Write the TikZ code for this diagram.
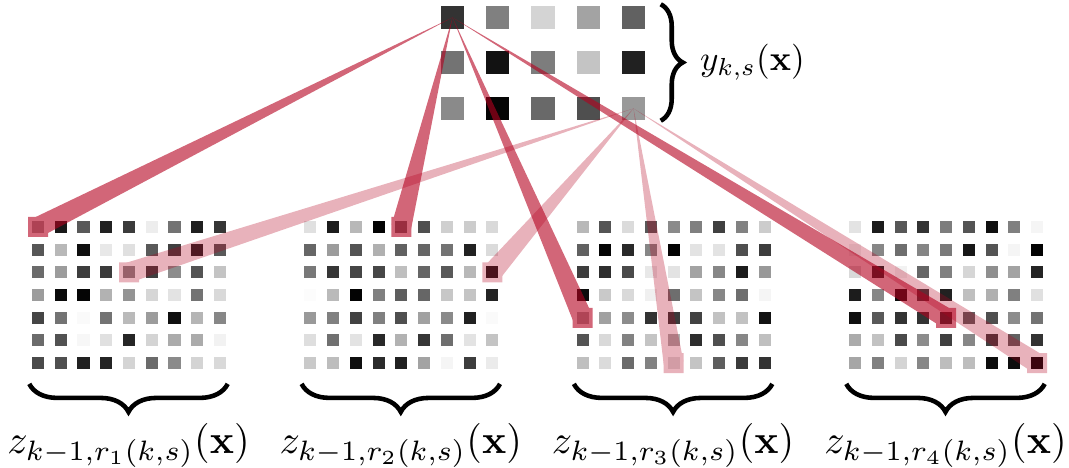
\documentclass[tikz,border=0pt]{standalone}
\usepackage{amsmath}
\usepackage{xcolor}
\usepackage{tikz}
\usetikzlibrary{calc}
\usetikzlibrary{positioning,decorations.pathreplacing}
\definecolor{linkred}{RGB}{180,0,30}

% one feature map: #1 name, #2 left edge, #3 grey values row by row
\newcommand{\featuremap}[3]{%
\foreach \row [count=\r from 0] in {#3} {
  \foreach \v [count=\c from 0] in \row {
    \node[cell, fill=black!\v] (#1-\r-\c) at (#2+6+22.75*\c, 227+22.7*\r) {};
  }
}}

% wedge from a unit of y to its input unit, with the box round it
\newcommand{\receptive}[3]{%
\begin{scope}[#1]
\fill[linkred] (#2.center) -- ($(#3.center)!0.1cm!90:(#2.center)$) -- ($(#3.center)!0.1cm!-90:(#2.center)$) -- cycle;
\fill[linkred] ($(#3.center)+(-10,-10)$) rectangle ($(#3.center)+(10,10)$);
\end{scope}}

\begin{document}
\begin{tikzpicture}[
x=0.01cm, y=-0.01cm,
cell/.style={inner sep=0, minimum size=0.12cm},
bigcell/.style={inner sep=0, minimum size=0.23cm},
StrongLink/.style={transparency group, opacity=0.6},
WeakLink/.style={transparency group, opacity=0.3},
MyBrace/.style={decorate, decoration={brace, amplitude=0.28cm}, line width=1.3pt},
SideBrace/.style={decorate, decoration={brace, amplitude=0.22cm}, line width=1.3pt},
MapLabel/.style={inner sep=0, scale=1.14}
]

\useasboundingbox (0,0) rectangle (1069,468);

% output map y_{k,s}
\foreach \row [count=\r from 0] in {{80,50,17,36,62},{55,93,51,23,87},{46,98,59,69,40}} {
  \foreach \v [count=\c from 0] in \row {
    \node[bigcell, fill=black!\v] (y-\r-\c) at (452.5+45.25*\c, 17.5+45.5*\r) {};
  }
}

% input maps z_{k-1,r_i(k,s)}
\featuremap{z1}{32}{{35,90,65,87,77,7,55,88,79},{66,28,94,9,12,65,75,85,65},{58,39,76,77,45,75,45,67,23},{39,96,98,30,42,16,11,55,15},{73,55,2,55,27,39,94,29,47},{58,68,3,12,85,17,33,33,5},{71,69,87,86,17,58,46,17,15}}
\featuremap{z2}{304.3}{{12,89,28,99,55,69,19,20,15},{60,39,67,31,62,60,55,87,14},{53,79,73,72,25,60,65,28,89},{1,27,99,50,63,60,22,23,86},{40,50,74,50,69,37,46,87,2},{13,56,11,84,30,79,57,11,23},{21,26,94,83,87,36,4,76,8}}
\featuremap{z3}{576.6}{{28,67,14,65,46,50,75,49,20},{62,98,84,47,99,11,11,69,76},{76,82,71,9,11,36,47,89,40},{95,21,15,6,57,23,47,57,4},{33,37,45,80,77,74,24,24,93},{67,15,49,23,31,82,69,47,25},{25,14,58,49,12,23,63,77,80}}
\featuremap{z4}{849}{{11,89,66,80,51,67,94,50,4},{6,47,57,48,52,91,67,4,99},{15,85,5,60,50,16,44,36,86},{89,47,95,75,87,25,31,50,12},{94,65,80,80,81,62,69,45,55},{33,24,71,45,75,47,75,62,80},{35,50,17,47,26,26,95,95,97}}

% links
\receptive{StrongLink}{y-0-0}{z1-0-0}
\receptive{StrongLink}{y-0-0}{z2-0-4}
\receptive{StrongLink}{y-0-0}{z3-4-0}
\receptive{StrongLink}{y-0-0}{z4-4-4}
\receptive{WeakLink}{y-2-4}{z1-2-4}
\receptive{WeakLink}{y-2-4}{z2-2-8}
\receptive{WeakLink}{y-2-4}{z3-6-4}
\receptive{WeakLink}{y-2-4}{z4-6-8}

% braces and labels
\draw[SideBrace] ([xshift=0.15cm, yshift=0.01cm]y-0-4.north east) -- ([xshift=0.15cm]y-2-4.south east)
  node[midway, right=0.37cm, inner sep=0] (ylabel) {$y_{k,s}(\mathbf{x})$};

\foreach \m in {1,2,3,4} {
  \draw[MyBrace, decoration={mirror}] ([xshift=-0.02cm, yshift=-0.14cm]z\m-6-0.south west) -- ([xshift=0.01cm, yshift=-0.14cm]z\m-6-8.south east)
    node[midway, below=0.37cm, MapLabel] (zlabel\m) {$z_{k-1,r_{\m}(k,s)}(\mathbf{x})$};
}

\end{tikzpicture}
\end{document}
